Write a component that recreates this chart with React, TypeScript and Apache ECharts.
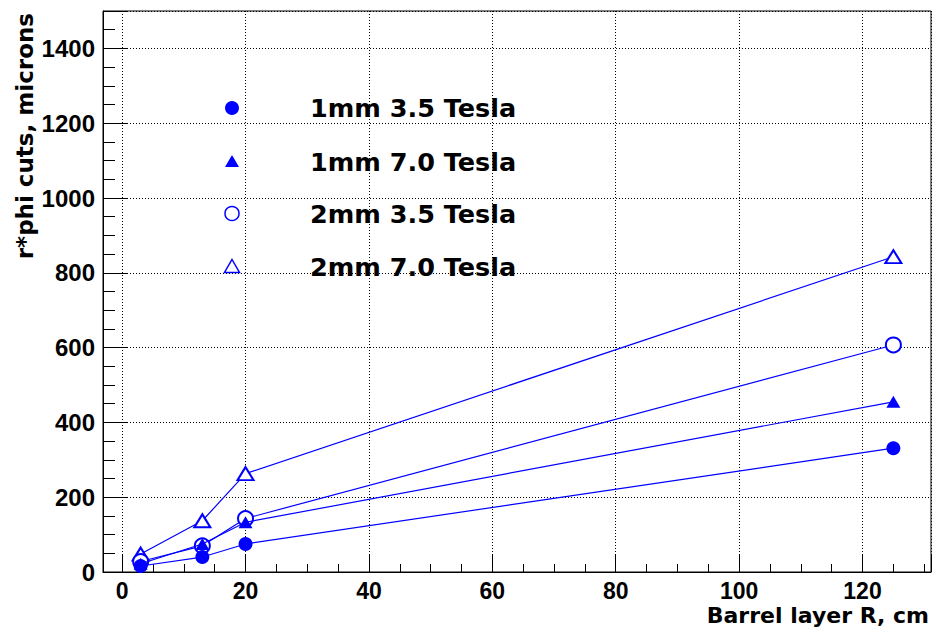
import React, { useEffect, useRef } from "react";
import * as echarts from "echarts";

const xValues = [3, 13, 20, 125];
const s1mm35 = [16, 40, 75, 331];
const s1mm70 = [22, 75, 133, 455];
const s2mm35 = [28, 70, 143, 607];
const s2mm70 = [48, 137, 263, 843];
const seriesNames = ["1mm 3.5 Tesla", "1mm 7.0 Tesla", "2mm 3.5 Tesla", "2mm 7.0 Tesla"];
const xTitle = "Barrel layer R, cm";
const yTitle = "r*phi cuts, microns";

const BLUE = "#0000ff";

export default function App() {
  const ref = useRef<HTMLDivElement>(null);
  useEffect(() => {
    if (!ref.current) return;
    const chart = echarts.init(ref.current, undefined, { renderer: "svg" });
    const pairs = (ys: number[]) => xValues.map((x, i) => [x, ys[i]]);
    const legendY = [108, 161.5, 213.5, 266.5];
    const lx = 232;
    const legendFont = {
      fontFamily: "DejaVu Sans",
      fontWeight: "bold" as const,
      fontSize: 25.5,
      fill: "#000",
    };
    chart.setOption({
      animation: false,
      backgroundColor: "#fff",
      grid: {
        left: 103,
        top: 11,
        width: 828,
        height: 561,
        show: true,
        borderColor: "#000",
        borderWidth: 1,
        backgroundColor: "transparent",
      },
      xAxis: {
        type: "value",
        min: -3.1,
        max: 131.1,
        splitNumber: 7,
        axisLine: { show: true, onZero: false, lineStyle: { color: "#000", width: 1 } },
        axisTick: { show: true, inside: true, length: 17, lineStyle: { color: "#000", width: 1 } },
        minorTick: { show: true, splitNumber: 4, length: 8, lineStyle: { color: "#000", width: 1 } },
        splitLine: { show: true, lineStyle: { color: "#000", width: 1, type: [1, 2] } },
        axisLabel: {
          showMinLabel: false,
          showMaxLabel: false,
          margin: 7,
          color: "#000",
          fontFamily: "Liberation Sans",
          fontWeight: "bold",
          fontSize: 23,
          formatter: (v: number) => String(v),
        },
      },
      yAxis: {
        type: "value",
        min: 0,
        max: 1500,
        interval: 200,
        axisLine: { show: true, onZero: false, lineStyle: { color: "#000", width: 1 } },
        axisTick: { show: true, inside: true, length: 25, lineStyle: { color: "#000", width: 1 } },
        minorTick: { show: true, splitNumber: 4, length: 12, lineStyle: { color: "#000", width: 1 } },
        splitLine: { show: true, lineStyle: { color: "#000", width: 1, type: [1, 2] } },
        axisLabel: {
          showMaxLabel: false,
          margin: 8,
          color: "#000",
          fontFamily: "Liberation Sans",
          fontWeight: "bold",
          fontSize: 24,
          formatter: (v: number) => String(v),
        },
      },
      series: [
        {
          name: seriesNames[0],
          type: "line",
          data: pairs(s1mm35),
          symbol: "circle",
          symbolSize: 14,
          lineStyle: { color: BLUE, width: 1.2 },
          itemStyle: { color: BLUE },
          z: 5,
        },
        {
          name: seriesNames[1],
          type: "line",
          data: pairs(s1mm70),
          symbol: "triangle",
          symbolSize: [14, 12],
          lineStyle: { color: BLUE, width: 1.2 },
          itemStyle: { color: BLUE },
          z: 4,
        },
        {
          name: seriesNames[2],
          type: "line",
          data: pairs(s2mm35),
          symbol: "emptyCircle",
          symbolSize: 15,
          lineStyle: { color: BLUE, width: 1.2 },
          itemStyle: { color: BLUE, borderWidth: 1.5 },
          z: 3,
        },
        {
          name: seriesNames[3],
          type: "line",
          data: pairs(s2mm70),
          symbol: "emptyTriangle",
          symbolSize: [16, 13],
          lineStyle: { color: BLUE, width: 1.2 },
          itemStyle: { color: BLUE, borderWidth: 1.5 },
          z: 2,
        },
      ],
      graphic: [
        {
          type: "text",
          x: 25,
          y: 13,
          rotation: Math.PI / 2,
          style: {
            text: yTitle,
            align: "right",
            verticalAlign: "middle",
            fontFamily: "DejaVu Sans",
            fontWeight: "bold",
            fontSize: 23,
            fill: "#000",
          },
        },
        {
          type: "text",
          x: 929,
          y: 615,
          style: {
            text: xTitle,
            align: "right",
            verticalAlign: "middle",
            fontFamily: "DejaVu Sans",
            fontWeight: "bold",
            fontSize: 22,
            fill: "#000",
          },
        },
        { type: "circle", shape: { cx: lx, cy: legendY[0], r: 7 }, style: { fill: BLUE } },
        {
          type: "polygon",
          shape: { points: [[lx, legendY[1] - 6.5], [lx + 7, legendY[1] + 5.5], [lx - 7, legendY[1] + 5.5]] },
          style: { fill: BLUE },
        },
        {
          type: "circle",
          shape: { cx: lx, cy: legendY[2], r: 7 },
          style: { fill: "#fff", stroke: BLUE, lineWidth: 1.5 },
        },
        {
          type: "polygon",
          shape: { points: [[lx, legendY[3] - 7], [lx + 7.5, legendY[3] + 6], [lx - 7.5, legendY[3] + 6]] },
          style: { fill: "#fff", stroke: BLUE, lineWidth: 1.5 },
        },
        ...seriesNames.map((n, i) => ({
          type: "text",
          x: 310,
          y: legendY[i],
          style: { text: n, align: "left", verticalAlign: "middle", ...legendFont },
        })),
      ],
    });
    return () => chart.dispose();
  }, []);
  return (
    <div
      ref={ref}
      style={{ position: "fixed", left: 0, top: 0, width: 932, height: 629, background: "#fff" }}
    />
  );
}
